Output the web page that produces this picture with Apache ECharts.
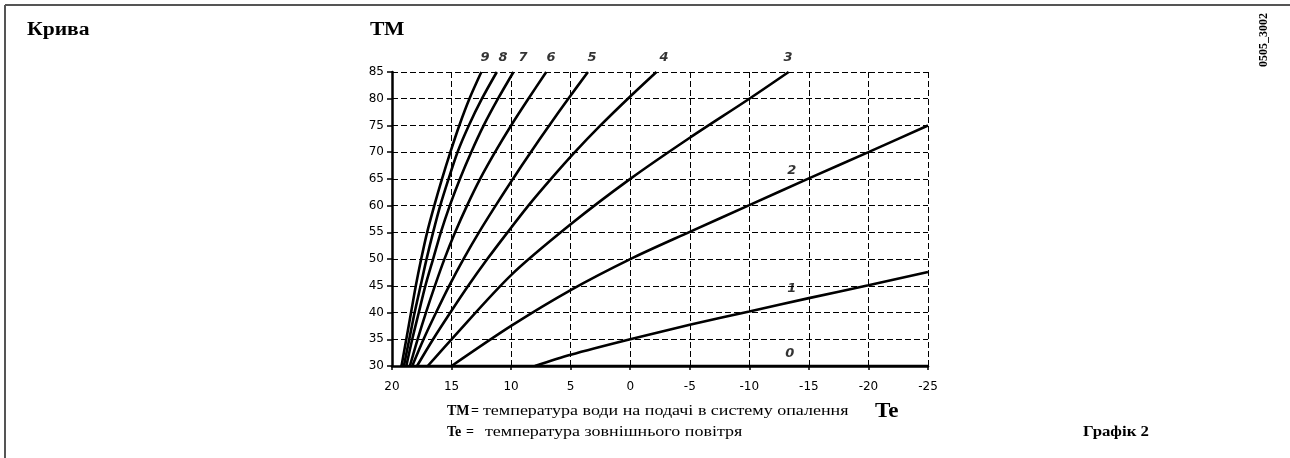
<!DOCTYPE html>
<html>
<head>
<meta charset="utf-8">
<title>Крива — графік 2</title>
<script src="https://cdn.jsdelivr.net/npm/echarts@6/dist/echarts.min.js"></script>
<style>
  html, body { margin: 0; padding: 0; background: #fff; }
  #chart { width: 1290px; height: 458px; }
</style>
</head>
<body>
<div id="chart"></div>
<script>
// Outdoor temperature Te (x, reversed) and flow temperature TM (y) ticks
const teTicks = [20, 15, 10, 5, 0, -5, -10, -15, -20, -25];
const tmTicks = [30, 35, 40, 45, 50, 55, 60, 65, 70, 75, 80, 85];

// Heating curves 0..9 as [Te, TM] pairs
const curveNames = ['0', '1', '2', '3', '4', '5', '6', '7', '8', '9'];
const curve0 = [[19.3, 30], [-25, 30]];
const curve1 = [[8, 30], [5, 32.1], [0, 35], [-5, 37.7], [-10, 40.2], [-15, 42.7], [-20, 45.1], [-25, 47.6]];
const curve2 = [[15, 30], [10, 37.5], [5, 44.2], [0, 50], [-5, 55.1], [-10, 60.1], [-15, 65.1], [-20, 70], [-25, 75]];
const curve3 = [[17, 30], [15, 35], [10, 47], [5, 56.5], [0, 65], [-5, 72.7], [-10, 80], [-13.3, 85]];
const curve4 = [[17.9, 30], [16.55, 35], [15.1, 40], [13.6, 45], [12.0, 50], [10.3, 55], [8.55, 60], [6.65, 65], [4.65, 70], [2.5, 75], [0.2, 80], [-2.2, 85]];
const curve5 = [[18.3, 30], [17.35, 35], [16.3, 40], [15.2, 45], [14.0, 50], [12.7, 55], [11.3, 60], [9.85, 65], [8.35, 70], [6.8, 75], [5.2, 80], [3.55, 85]];
const curve6 = [[18.5, 30], [17.85, 35], [17.15, 40], [16.4, 45], [15.6, 50], [14.7, 55], [13.7, 60], [12.6, 65], [11.35, 70], [10.0, 75], [8.55, 80], [7.05, 85]];
const curve7 = [[18.8, 30], [18.3, 35], [17.75, 40], [17.2, 45], [16.55, 50], [15.9, 55], [15.15, 60], [14.3, 65], [13.35, 70], [12.3, 75], [11.1, 80], [9.8, 85]];
const curve8 = [[19.0, 30], [18.55, 35], [18.1, 40], [17.6, 45], [17.1, 50], [16.55, 55], [15.95, 60], [15.25, 65], [14.5, 70], [13.55, 75], [12.45, 80], [11.2, 85]];
const curve9 = [[19.2, 30], [18.8, 35], [18.4, 40], [18.0, 45], [17.55, 50], [17.05, 55], [16.45, 60], [15.8, 65], [15.1, 70], [14.35, 75], [13.5, 80], [12.5, 85]];
const curves = [curve0, curve1, curve2, curve3, curve4, curve5, curve6, curve7, curve8, curve9];

// Where each curve number is written, in [Te, TM] units
const labelSpots = [
  [-13.4, 32.4], [-13.56, 44.5], [-13.56, 66.6], [-13.25, 87.7], [-2.84, 87.7],
  [3.2, 87.7], [6.65, 87.7], [9.0, 87.7], [10.68, 87.7], [12.19, 87.7]
];

const chart = echarts.init(document.getElementById('chart'), null, { renderer: 'canvas' });

const serif = '"Liberation Serif", "Times New Roman", serif';

function txt(text, x, y, font, scaleX) {
  return {
    type: 'text',
    x: x, y: y,
    scaleX: scaleX || 1,
    silent: true,
    style: {
      text: text,
      font: font,
      fill: '#000',
      align: 'left', verticalAlign: 'middle',
      textAlign: 'left', textVerticalAlign: 'middle'
    }
  };
}

const dash = [6, 3];

const lineSeries = curves.map((pts, i) => ({
  type: 'line',
  name: curveNames[i],
  data: pts,
  showSymbol: false,
  smooth: 0.3,
  silent: true,
  z: 3,
  lineStyle: { color: '#000', width: 2.6 }
}));

const labelSeries = {
  type: 'scatter',
  data: labelSpots.map((p, i) => ({ name: curveNames[i], value: p })),
  symbolSize: 0,
  clip: false,
  silent: true,
  z: 5,
  label: {
    show: true,
    position: 'inside',
    formatter: '{b}',
    color: '#000',
    fontFamily: '"DejaVu Sans", sans-serif',
    fontStyle: 'italic',
    fontWeight: 'bold',
    fontSize: 13
  }
};

chart.setOption({
  animation: false,
  backgroundColor: '#fff',
  grid: { left: 392, right: 362, top: 72, bottom: 92, containLabel: false },
  xAxis: {
    type: 'value',
    inverse: true,
    min: Math.min(...teTicks),
    max: Math.max(...teTicks),
    interval: teTicks[0] - teTicks[1],
    axisLine: { show: true, onZero: false, lineStyle: { color: '#000', width: 2.5 } },
    axisTick: { show: true, length: 4, lineStyle: { color: '#000', width: 1.5 } },
    axisLabel: { color: '#000', fontFamily: '"DejaVu Sans", sans-serif', fontSize: 12, margin: 15 },
    splitLine: { show: true, lineStyle: { color: '#000', width: 1, type: dash } }
  },
  yAxis: {
    type: 'value',
    min: Math.min(...tmTicks),
    max: Math.max(...tmTicks),
    interval: tmTicks[1] - tmTicks[0],
    axisLine: { show: true, onZero: false, lineStyle: { color: '#000', width: 2.5 } },
    axisTick: { show: true, length: 5, lineStyle: { color: '#000', width: 1.5 } },
    axisLabel: { color: '#000', fontFamily: '"DejaVu Sans", sans-serif', fontSize: 12, margin: 8 },
    splitLine: { show: true, lineStyle: { color: '#000', width: 1, type: dash } }
  },
  series: lineSeries.concat([labelSeries]),
  graphic: [
    // page frame
    { type: 'line', silent: true, shape: { x1: 5, y1: 5, x2: 1290, y2: 5 }, style: { stroke: '#555', lineWidth: 2 } },
    { type: 'line', silent: true, shape: { x1: 5, y1: 5, x2: 5, y2: 458 }, style: { stroke: '#555', lineWidth: 2 } },
    txt('Крива', 27, 30, 'bold 18px ' + serif, 1.2),
    txt('ТМ', 370, 30, 'bold 18px ' + serif, 1.2),
    txt('ТМ', 447, 411, 'bold 14px ' + serif),
    txt('=', 471, 411, 'bold 14px ' + serif),
    txt('температура води на подачі в систему опалення', 483, 411, '15px ' + serif, 1.2),
    txt('Te', 875, 412, 'bold 21px ' + serif, 1.1),
    txt('Te', 447, 432, 'bold 14px ' + serif),
    txt('=', 466, 432, 'bold 14px ' + serif),
    txt('температура зовнішнього повітря', 485, 432, '15px ' + serif, 1.2),
    txt('Графік 2', 1083, 432, 'bold 14px ' + serif, 1.2),
    {
      type: 'text', x: 1264, y: 40, rotation: Math.PI / 2, silent: true,
      style: {
        text: '0505_3002', font: 'bold 12px ' + serif, fill: '#000',
        align: 'center', verticalAlign: 'middle', textAlign: 'center', textVerticalAlign: 'middle'
      }
    }
  ]
});
</script>
</body>
</html>
